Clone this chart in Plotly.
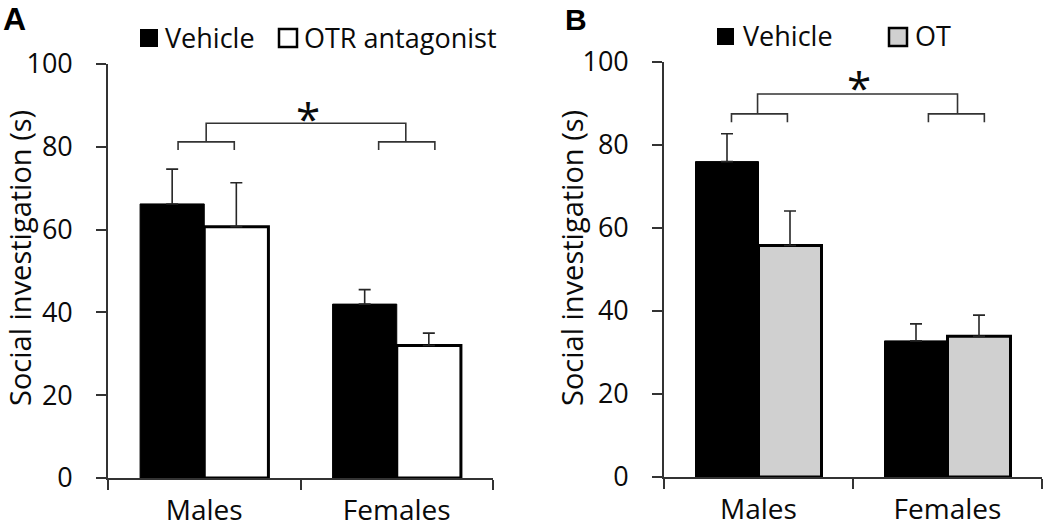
import plotly.graph_objects as go

# ---------------- data ----------------
categories = ["Males", "Females"]

a_vehicle = [66.2, 42.0]
a_vehicle_sem = [8.4, 3.5]
a_otr = [60.7, 32.0]
a_otr_sem = [10.6, 3.0]

b_vehicle = [76.0, 32.8]
b_vehicle_sem = [6.7, 4.1]
b_ot = [55.8, 33.9]
b_ot_sem = [8.3, 5.1]

y_ticks = [0, 20, 40, 60, 80, 100]

FONT = "Open Sans"
TXT = "#0a0a0a"
AXC = "#333333"
ERRC = "#262626"

fig = go.Figure()

def err(sem):
    return dict(type="data", symmetric=False, array=sem, arrayminus=[0] * len(sem),
                color=ERRC, thickness=1.6, width=6)

fig.add_trace(go.Bar(x=categories, y=a_vehicle, name="Vehicle", error_y=err(a_vehicle_sem),
                     marker=dict(color="#000000", line=dict(color="#000000", width=1)),
                     xaxis="x", yaxis="y", showlegend=False))
fig.add_trace(go.Bar(x=categories, y=a_otr, name="OTR antagonist", error_y=err(a_otr_sem),
                     marker=dict(color="#ffffff", line=dict(color="#000000", width=3)),
                     xaxis="x", yaxis="y", showlegend=False))
fig.add_trace(go.Bar(x=categories, y=b_vehicle, name="Vehicle", error_y=err(b_vehicle_sem),
                     marker=dict(color="#000000", line=dict(color="#000000", width=1)),
                     xaxis="x2", yaxis="y2", showlegend=False))
fig.add_trace(go.Bar(x=categories, y=b_ot, name="OT", error_y=err(b_ot_sem),
                     marker=dict(color="#d0d0d0", line=dict(color="#000000", width=3)),
                     xaxis="x2", yaxis="y2", showlegend=False))

H = 529.0
W = 1050.0

def xax(domain, anchor):
    return dict(domain=domain, anchor=anchor, range=[-0.5, 1.5], type="category",
                showline=True, linecolor=AXC, linewidth=1.6, ticks="outside",
                tickson="boundaries", ticklen=10, tickwidth=1.6, tickcolor=AXC,
                showgrid=False, zeroline=False, ticklabelstandoff=7, automargin=False,
                tickfont=dict(family=FONT, size=28, color=TXT), fixedrange=True)

def yax(domain, anchor):
    return dict(domain=domain, anchor=anchor, range=[0, 100], tickvals=y_ticks,
                showline=True, linecolor=AXC, linewidth=1.6, ticks="outside",
                ticklen=10, tickwidth=1.6, tickcolor=AXC, showgrid=False, zeroline=False,
                ticklabelstandoff=18, automargin=False,
                tickfont=dict(family=FONT, size=27, color=TXT), fixedrange=True)

fig.update_layout(
    width=1050, height=529,
    margin=dict(l=0, r=0, t=0, b=0, autoexpand=False),
    paper_bgcolor="white", plot_bgcolor="white",
    barmode="group", bargap=1 / 3, bargroupgap=0,
    xaxis=xax([108 / W, 493 / W], "y"),
    yaxis=yax([(H - 478) / H, (H - 64) / H], "x"),
    xaxis2=xax([664 / W, 1042 / W], "y2"),
    yaxis2=yax([(H - 477) / H, (H - 62) / H], "x2"),
)

shapes = []
annotations = []

def bracket(xr, yr, left_c, right_c, hw, y_low, y_mid, y_top, mid_l, mid_r):
    line = dict(color=AXC, width=1.6)
    for c in (left_c, right_c):
        shapes.append(dict(type="path", xref=xr, yref=yr, line=line,
                           path=f"M {c - hw},{y_low} L {c - hw},{y_mid} L {c + hw},{y_mid} L {c + hw},{y_low}"))
    shapes.append(dict(type="path", xref=xr, yref=yr, line=line,
                       path=f"M {mid_l},{y_mid} L {mid_l},{y_top} L {mid_r},{y_top} L {mid_r},{y_mid}"))

# brackets (category index 0 = Males, 1 = Females)
bracket("x", "y", 0 + 0.01, 1 + 0.052, 0.146, 79.2, 81.2, 85.7, 0 + 0.01, 1 + 0.047)
bracket("x2", "y2", 0 + 0.005, 1 + 0.047, 0.148, 85.5, 87.5, 92.3, 0 - 0.005, 1 + 0.053)

annotations.append(dict(text="*", xref="x", yref="y", x=0.54, y=88.8, showarrow=False,
                        font=dict(family=FONT, size=44, color=TXT), yanchor="middle", yshift=-8))
annotations.append(dict(text="*", xref="x2", yref="y2", x=0.534, y=95.2, showarrow=False,
                        font=dict(family=FONT, size=44, color=TXT), yanchor="middle", yshift=-5))

# y titles
for xc in (19, 571):
    annotations.append(dict(text="Social investigation (s)", xref="paper", yref="paper",
                            x=xc / W, y=(H - 258) / H, textangle=-90, showarrow=False,
                            xanchor="center", yanchor="middle", borderpad=0,
                            font=dict(family=FONT, size=29, color=TXT)))

# panel letters
annotations.append(dict(text="<b>A</b>", xref="paper", yref="paper", x=2 / W, y=(H - 19) / H,
                        xanchor="left", yanchor="middle", showarrow=False, borderpad=0,
                        font=dict(family="Liberation Sans", size=32, color="#000000")))
annotations.append(dict(text="<b>B</b>", xref="paper", yref="paper", x=564 / W, y=(H - 19) / H,
                        xanchor="left", yanchor="middle", showarrow=False, borderpad=0,
                        font=dict(family="Liberation Sans", size=30, color="#000000")))

# manual legends
def legend_item(x0, y0, size, fill, lw, label, tx):
    shapes.append(dict(type="rect", xref="paper", yref="paper",
                       x0=x0 / W, x1=(x0 + size) / W, y0=(H - y0 - size) / H, y1=(H - y0) / H,
                       fillcolor=fill, line=dict(color="#000000", width=lw)))
    annotations.append(dict(text=label, xref="paper", yref="paper", x=tx / W,
                            y=(H - y0 - size / 2 + 1) / H, xanchor="left", yanchor="middle",
                            showarrow=False, font=dict(family=FONT, size=27, color=TXT)))

legend_item(140, 29, 18, "#000000", 0, "Vehicle", 163)
legend_item(279, 29, 18, "#ffffff", 2.5, "OTR antagonist", 302)
legend_item(717, 28, 17, "#000000", 0, "Vehicle", 741)
legend_item(889, 28, 18, "#d0d0d0", 2.5, "OT", 913)

fig.update_layout(shapes=shapes, annotations=annotations)

fig.write_html("out.html", config={"displayModeBar": False},
               post_script="document.body.style.margin='0';")
